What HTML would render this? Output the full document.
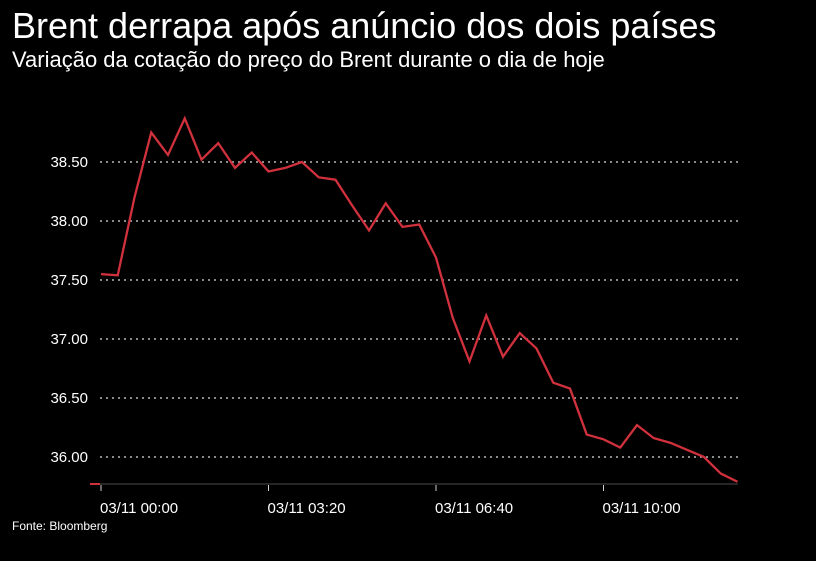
<!DOCTYPE html>
<html><head><meta charset="utf-8"><style>
body{margin:0;background:#000;width:816px;height:561px;overflow:hidden;font-family:"Liberation Sans",sans-serif;color:#fff}
#title{position:absolute;left:12px;top:5px;font-size:36px;white-space:nowrap}
#sub{position:absolute;left:12px;top:47px;font-size:22px;white-space:nowrap}
#src{position:absolute;left:12px;top:519px;font-size:12px}
svg{position:absolute;left:0;top:0}
</style></head><body>
<div id="title">Brent derrapa após anúncio dos dois países</div>
<div id="sub">Variação da cotação do preço do Brent durante o dia de hoje</div>
<div id="src">Fonte: Bloomberg</div>
<svg id="c" width="816" height="561"></svg>
<script>
const values=[37.55,37.54,38.20,38.75,38.56,38.87,38.52,38.66,38.45,38.58,38.42,38.45,38.50,38.37,38.35,38.13,37.92,38.15,37.95,37.97,37.69,37.18,36.81,37.20,36.85,37.05,36.92,36.63,36.58,36.19,36.15,36.08,36.27,36.16,36.12,36.06,36.00,35.86,35.79];
const yTicks=[36.0,36.5,37.0,37.5,38.0,38.5];
const yTickLabels=["36.00","36.50","37.00","37.50","38.00","38.50"];
const xTickIdx=[0,20,40,60];
const xTickLabels=["03/11 00:00","03/11 03:20","03/11 06:40","03/11 10:00"];
const NS="http://www.w3.org/2000/svg",svg=document.getElementById('c');
const x=i=>101+i*16.75, y=v=>162-(v-38.5)*118;
function mk(t,a){const e=document.createElementNS(NS,t);for(const k in a)e.setAttribute(k,a[k]);svg.appendChild(e);return e;}
yTicks.forEach((v,i)=>{
 const g=mk('line',{x1:100,x2:738,y1:y(v),y2:y(v),stroke:'#ddd','stroke-width':1.3,'stroke-dasharray':'2 4'});
 
 
 const t=mk('text',{x:88,y:y(v)+5,'text-anchor':'end',fill:'#fff','font-size':15});
 t.textContent=yTickLabels[i];
 
 
});
const ax=mk('line',{x1:92,x2:738,y1:484,y2:484,stroke:'#333','stroke-width':1.5});


const st=mk('line',{x1:90,x2:100,y1:484,y2:484,stroke:'#d0313d','stroke-width':2});


xTickIdx.forEach((k,i)=>{
 const tk=mk('line',{x1:x(k/2),x2:x(k/2),y1:485,y2:491,stroke:'#ccc','stroke-width':1});
 
 
 const t=mk('text',{x:x(k/2)-1,y:513,'text-anchor':'start',fill:'#fff','font-size':15});
 t.textContent=xTickLabels[i];
 
 
});
const p=mk('polyline',{points:values.map((v,i)=>x(i)+','+y(v)).join(' '),fill:'none',stroke:'#d0313d','stroke-width':2.3,'stroke-linejoin':'miter'});


</script>
</body></html>
